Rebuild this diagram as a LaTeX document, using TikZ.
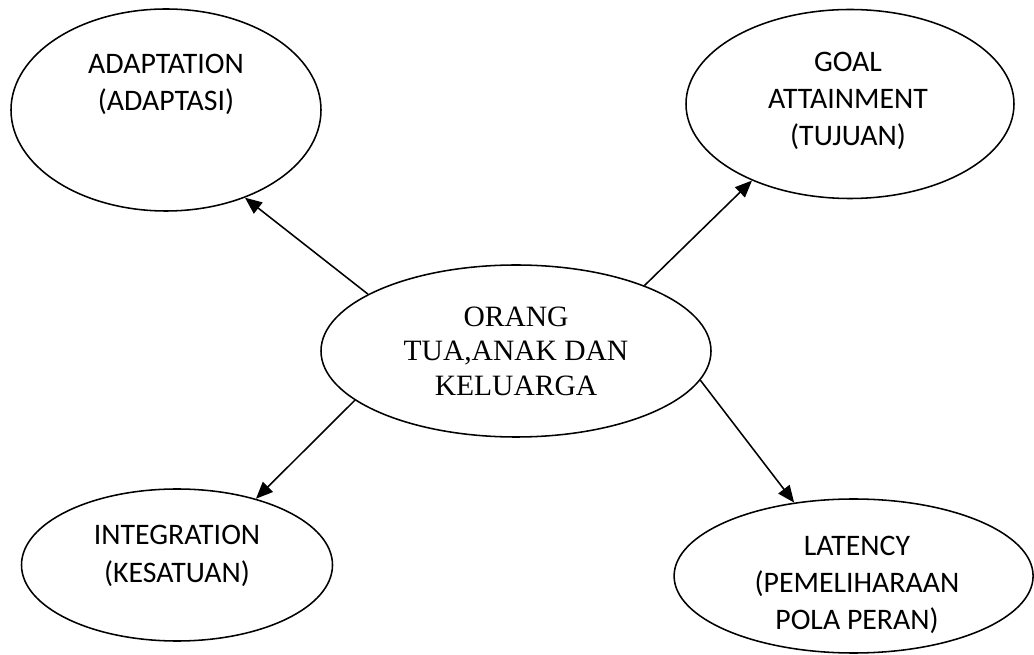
\documentclass[tikz,border=0pt]{standalone}
\usepackage{fontspec}
\setmainfont{Carlito}
\newfontfamily\timesfont{Liberation Serif}
\usepackage{tikz}
\usetikzlibrary{shapes.geometric, arrows.meta}
\tikzstyle{bubble} = [ellipse, draw=black, line width=1.1pt, inner sep=0pt]
\tikzstyle{caption} = [font=\fontsize{21.2}{26.5}\selectfont, align=center, inner sep=0pt]
\tikzstyle{core} = [ellipse, draw=black, line width=1.1pt, font=\timesfont\fontsize{21}{24.5}\selectfont, align=center, inner sep=0pt, minimum width=9.75cm, minimum height=4.3cm]
\tikzstyle{arrow} = [line width=1.1pt,-{Triangle[length=12pt,width=10pt]}]

\begin{document}
\begin{tikzpicture}
\useasboundingbox (0,0) rectangle (25.85,-16.375);
\node (family) [core] at (12.9,-8.775) {ORANG\\TUA,ANAK DAN\\KELUARGA};
\node (adapt) [bubble, minimum width=7.75cm, minimum height=5.05cm] at (4.15,-2.75) {};
\node (adaptTxt) [caption] at (4.15,-2.11) {ADAPTATION\\(ADAPTASI)};
\node (goal) [bubble, minimum width=8.2cm, minimum height=4.725cm] at (21.25,-2.6) {};
\node (goalTxt) [caption] at (21.2,-2.525) {GOAL\\ATTAINMENT\\(TUJUAN)};
\node (integ) [bubble, minimum width=7.775cm, minimum height=3.8cm] at (4.425,-14.125) {};
\node (integTxt) [caption] at (4.425,-13.9) {INTEGRATION\\(KESATUAN)};
\node (latency) [bubble, minimum width=8.975cm, minimum height=3.85cm] at (21.34,-14.4) {};
\node (latencyTxt) [caption] at (21.425,-14.625) {LATENCY\\(PEMELIHARAAN\\POLA PERAN)};

\draw [arrow] (family.159) -- (adapt.-48);
\draw [arrow] (family.27) -- (goal.218);
\draw [arrow] (family.197) -- (integ.40);
\draw [arrow] (family.-9) -- (latency.129);
\end{tikzpicture}
\end{document}
